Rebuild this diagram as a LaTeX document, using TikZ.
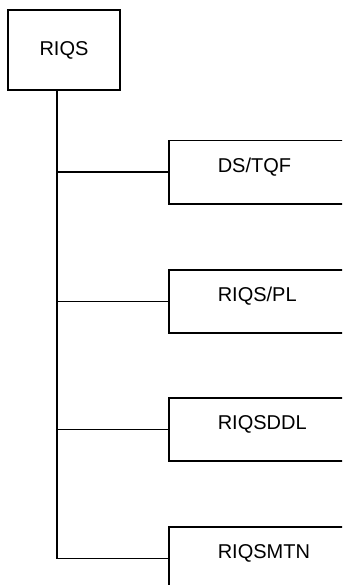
\documentclass[tikz,border=0pt]{standalone}
\usepackage{fontspec}
\setmainfont{Liberation Sans}
\begin{document}
\begin{tikzpicture}[x=1pt, y=-1pt, line width=1.5pt,
    every node/.style={draw, font=\fontsize{20}{24}\selectfont},
    box/.style={minimum width=112pt, minimum height=80pt, inner sep=0pt},
    leaf/.style={anchor=north west, minimum height=63pt, text width=102pt, inner xsep=49pt, align=left, text height=14pt, text depth=14pt}]
        \useasboundingbox (0,0) rectangle (342,585);
        \clip (0,0) rectangle (342,585);
        \node[box] (riqs) at (64, 50) {RIQS};
        \node[leaf] (dstqf) at (168, 140) {DS/TQF};
        \node[leaf] (riqspl) at (168, 269) {RIQS/PL};
        \node[leaf] (riqsddl) at (168, 397) {RIQSDDL};
        \node[leaf] (riqsmtn) at (168, 526) {RIQSMTN};
        \coordinate (foot) at (57, 558);
        \draw (riqs.south -| foot) -- (foot |- riqsmtn.west) -- (riqsmtn.west);
        \draw (foot |- dstqf.west) -- (dstqf.west);
        \draw (foot |- riqspl.west) -- (riqspl.west);
        \draw (foot |- riqsddl.west) -- (riqsddl.west);
    \end{tikzpicture}
\end{document}
